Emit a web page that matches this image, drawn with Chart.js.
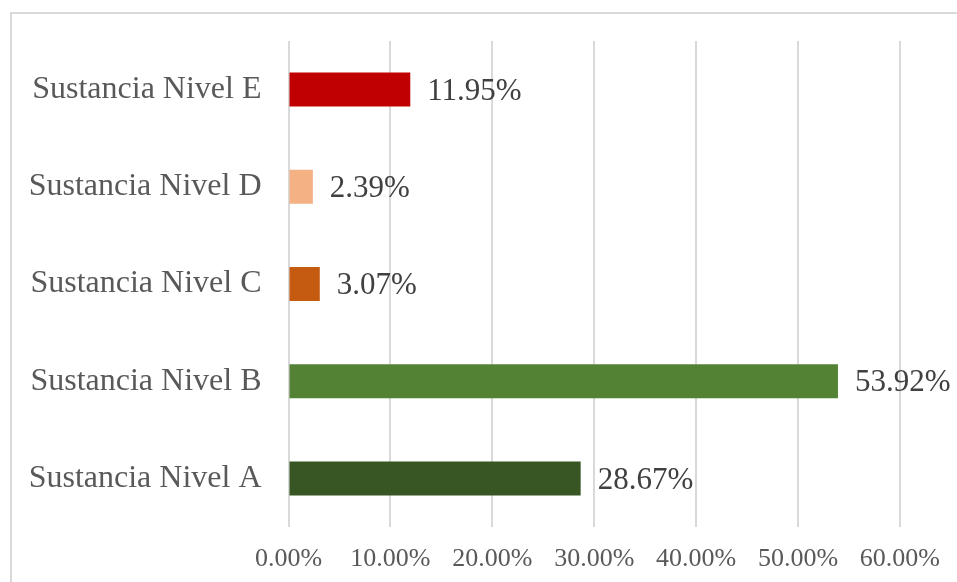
<!DOCTYPE html>
<html>
<head>
<meta charset="utf-8">
<script src="https://cdn.jsdelivr.net/npm/chart.js@4/dist/chart.umd.min.js"></script>
<style>
  html, body { margin: 0; padding: 0; background: #fff; }
  #wrap { position: relative; width: 957px; height: 582px; overflow: hidden; }
  #frame {
    position: absolute; left: 10px; top: 12px; width: 960px; height: 600px;
    border: 2px solid #d9d9d9; box-sizing: border-box;
  }
  canvas { position: absolute; left: 0; top: 0; }
</style>
</head>
<body>
<div id="wrap">
  <div id="frame"></div>
  <canvas id="grafico" width="957" height="582"></canvas>
</div>
<script>
  // datos (de abajo hacia arriba en el gráfico)
  const categorias = ['Sustancia Nivel A', 'Sustancia Nivel B', 'Sustancia Nivel C', 'Sustancia Nivel D', 'Sustancia Nivel E'];
  const porcentajes = [28.67, 53.92, 3.07, 2.39, 11.95];
  const colores = ['#375623', '#548235', '#c55a11', '#f4b183', '#c00000'];
  const ticksX = [0, 10, 20, 30, 40, 50, 60];

  const FUENTE = '"Liberation Serif", "Times New Roman", serif';

  /* etiquetas de valor al final de cada barra */
  const etiquetasValor = {
    id: 'etiquetasValor',
    afterDatasetsDraw(chart) {
      const ctx = chart.ctx;
      const meta = chart.getDatasetMeta(0);
      ctx.save();
      ctx.font = '31px ' + FUENTE;
      ctx.fillStyle = '#404040';
      ctx.textAlign = 'left';
      ctx.textBaseline = 'middle';
      meta.data.forEach((barra, i) => {
        ctx.fillText(porcentajes[i].toFixed(2) + '%', barra.x + 17, barra.y + 2);
      });
      ctx.restore();
    }
  };

  new Chart(document.getElementById('grafico'), {
    type: 'bar',
    data: {
      labels: categorias,
      datasets: [{
        data: porcentajes,
        backgroundColor: colores,
        borderWidth: 0,
        barPercentage: 0.35,
        categoryPercentage: 1
      }]
    },
    options: {
      indexAxis: 'y',
      responsive: false,
      animation: false,
      layout: { padding: { top: 41, right: 56, left: 0, bottom: 0 } },
      plugins: {
        legend: { display: false },
        tooltip: { enabled: false }
      },
      scales: {
        x: {
          min: 0,
          max: 60,
          afterBuildTicks(axis) { axis.ticks = ticksX.map(v => ({ value: v })); },
          afterFit(axis) { axis.height = 55; },
          grid: { color: '#d9d9d9', lineWidth: 2, drawTicks: false },
          border: { display: false },
          ticks: {
            padding: 17,
            color: '#595959',
            font: { family: FUENTE, size: 26 },
            callback: v => v.toFixed(2) + '%'
          }
        },
        y: {
          reverse: true,
          afterFit(axis) {
            axis.width = 288.5;
            axis.paddingTop = 0;
            axis.paddingBottom = 0;
          },
          grid: { display: false, drawTicks: false },
          border: { display: false },
          ticks: {
            padding: 27,
            color: '#595959',
            font: { family: FUENTE, size: 32 }
          }
        }
      }
    },
    plugins: [etiquetasValor]
  });
</script>
</body>
</html>
